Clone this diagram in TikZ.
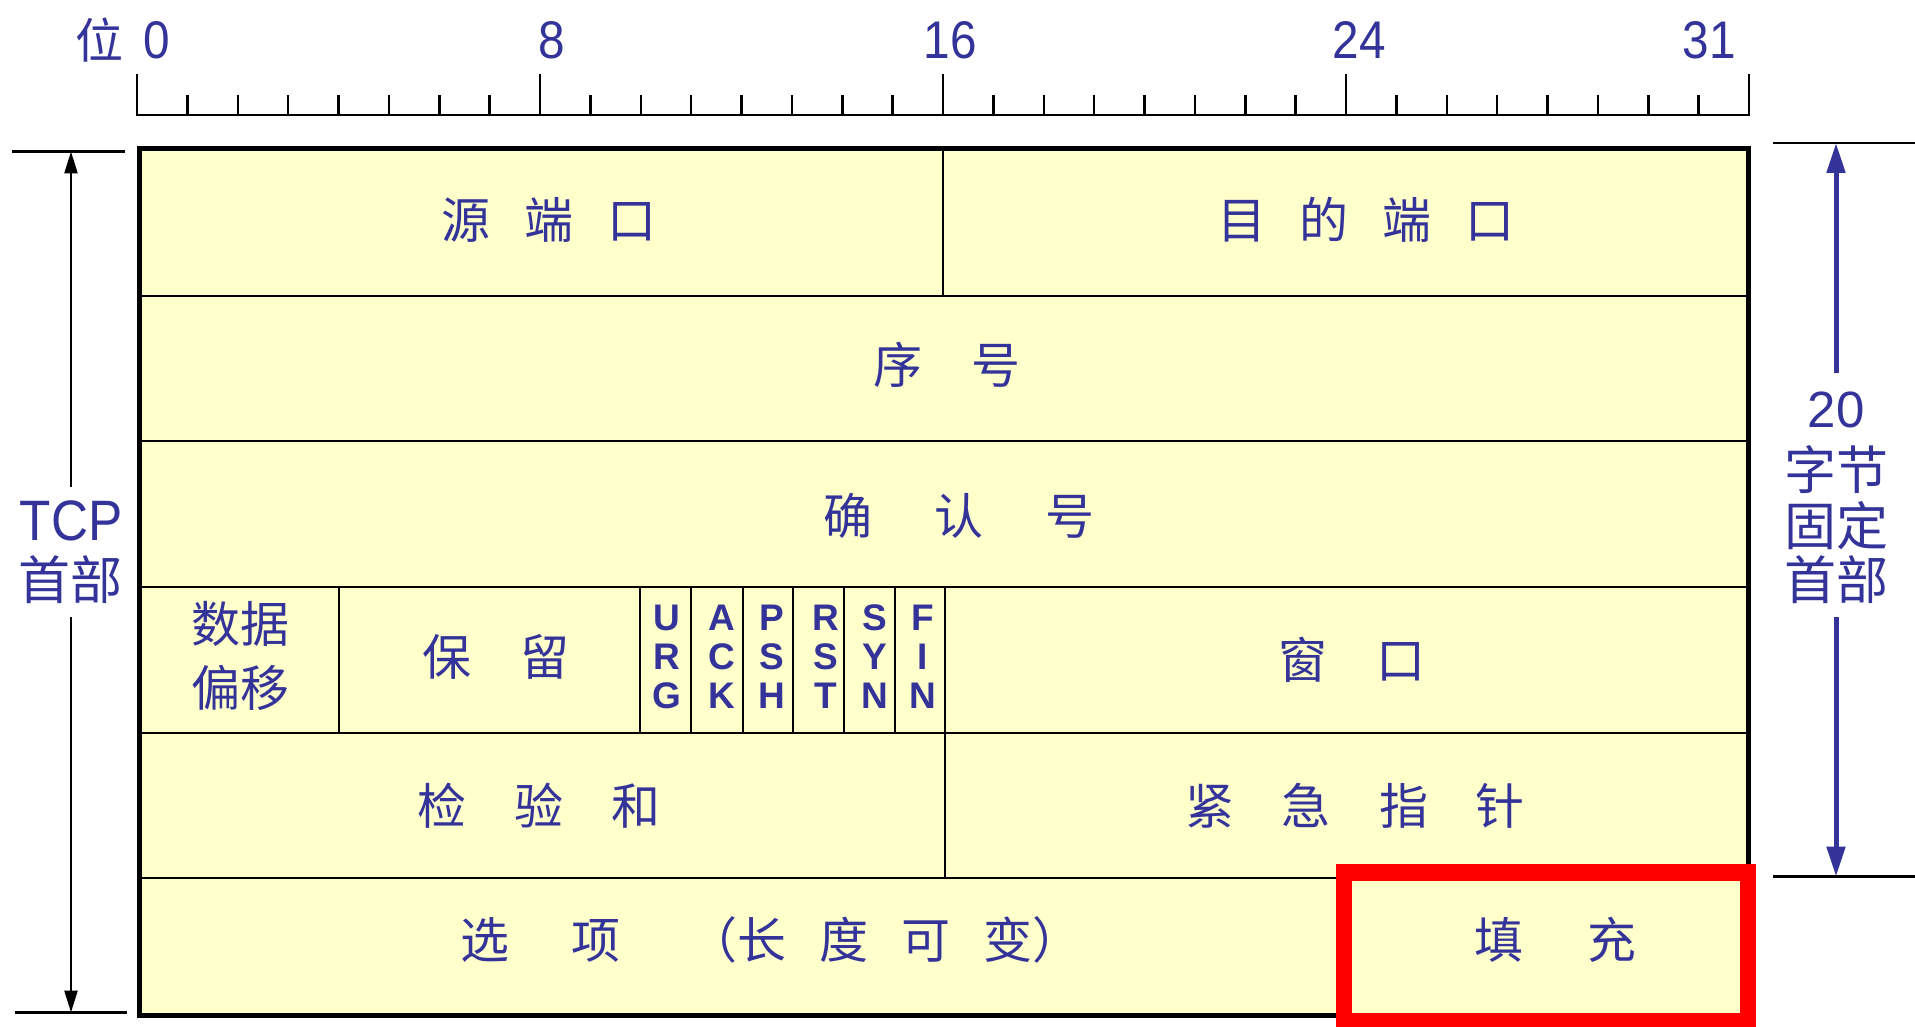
\documentclass[tikz,border=0pt]{standalone}
\usepackage{fontspec}
\usetikzlibrary{arrows.meta}
\newfontfamily\cjk{Noto Sans CJK SC}
\newfontfamily\narrowsans[FakeStretch=0.9]{Liberation Sans}
\newfontfamily\plainsans{Liberation Sans}
\definecolor{txtblue}{HTML}{333399}
\definecolor{cellfill}{HTML}{FFFFCC}
\newcommand\hgap[1]{\hspace{#1pt}}
\begin{document}
\begin{tikzpicture}[x=1pt,y=-1pt,
  cell/.style={text=txtblue, font=\cjk\fontsize{49}{64.5}\selectfont, inner sep=0pt, align=center},
  flag/.style={text=txtblue, font=\plainsans\bfseries\fontsize{37}{39}\selectfont, align=center, inner sep=0pt},
  rulenum/.style={text=txtblue, font=\narrowsans\fontsize{53}{60}\selectfont, inner sep=0pt},
  rulecjk/.style={text=txtblue, font=\cjk\fontsize{48}{56}\selectfont, inner sep=0pt},
  dimnum/.style={text=txtblue, inner xsep=0pt, inner ysep=14pt},
  dimcjk/.style={text=txtblue, font=\cjk\fontsize{52}{58}\selectfont, inner xsep=0pt, inner ysep=13pt},
  grid/.style={line width=2pt, black},
  frame/.style={line width=5pt, black},
  rule/.style={line width=2.5pt, black},
  extline/.style={line width=2.5pt, black},
  blackarrow/.style={line width=2.5pt, black, -{Triangle[width=13pt,length=22pt]}},
  bluearrow/.style={line width=5pt, txtblue, -{Triangle[width=18pt,length=30pt]}},
  highlight/.style={line width=16.5pt, red}
]
\clip (0,0) rectangle (1915,1027);
\fill[white] (0,0) rectangle (1915,1027);

% ruler
\foreach \i in {1,...,31} \draw[rule] ({137+50.375*\i},115) -- ++(0,-20);
\foreach \i in {8,16,24} \draw[rule] ({137+50.375*\i},115) -- ++(0,-41);
\draw[rule] (137,74) -- (137,115) -- (1749,115) -- (1749,74);
\node[rulecjk] (bitlbl) at (99,40) {位};
\node[rulenum] (b0) at (156.5,40) {0};
\node[rulenum] (b8) at (551.5,40) {8};
\node[rulenum] (b16) at (950,40) {16};
\node[rulenum] (b24) at (1359,40) {24};
\node[rulenum] (b31) at (1709,40) {31};

% header box
\fill[cellfill] (139.5,149) rectangle (1748.5,1015.5);
\foreach \y in {295.5,441,587,732.5,878} \draw[grid] (139.5,\y) -- (1748.5,\y);
\draw[grid] (943,149) -- (943,295.5);
\foreach \x in {338.5,640,691,742.5,793,844,895,945} \draw[grid] (\x,587) -- (\x,732.5);
\draw[grid] (945,732.5) -- (945,878);
\draw[frame] (139.5,149) rectangle (1748.5,1015.5);

% field texts
\node[cell] (src) at (549,220) {源\hgap{34}端\hgap{34}口};
\node[cell] (dst) at (1366,220) {目\hgap{34}的\hgap{34}端\hgap{34}口};
\node[cell] (seq) at (946.5,365) {序\hgap{49}号};
\node[cell] (ackn) at (959,516) {确\hgap{62}认\hgap{62}号};
\node[cell] (off) at (240,656) {数据\\偏移};
\node[cell] (resv) at (496,657) {保\hgap{49}留};
\node[flag] (furg) at (666.5,656.5) {U\\R\\G};
\node[flag] (fack) at (721.5,656.5) {A\\C\\K};
\node[flag] (fpsh) at (771.5,656.5) {P\\S\\H};
\node[flag] (frst) at (825.5,656.5) {R\\S\\T};
\node[flag] (fsyn) at (875,656.5) {S\\Y\\N};
\node[flag] (ffin) at (923,656.5) {F\\I\\N};
\node[cell] (win) at (1352,659.5) {窗\hgap{49}口};
\node[cell] (chk) at (539,806) {检\hgap{48}验\hgap{48}和};
\node[cell] (urg) at (1355,806) {紧\hgap{48}急\hgap{48}指\hgap{48}针};
\node[cell, anchor=west] (opt) at (460.5,940) {选\hgap{62}项\hgap{68}（长\hgap{33}度\hgap{33}可\hgap{33}变）};
\node[cell] (pad) at (1555.5,940) {填\hgap{64}充};

% highlight
\draw[highlight] (1344,872.5) rectangle (1748,1021);

% left dimension
\draw[extline] (12,151.5) -- (125,151.5);
\draw[extline] (15,1012.5) -- (127,1012.5);
\coordinate (ltop) at (71,151.5);
\coordinate (lbot) at (71,1012.5);
\node[dimnum, font=\narrowsans\fontsize{57}{60}\selectfont] (tcp) at (71,521) {TCP};
\node[dimcjk] (tcphdr) at (71,580) {首部};
\draw[blackarrow] (tcp.north) -- (ltop);
\draw[blackarrow] (tcphdr.south) -- (lbot);

% right dimension
\draw[extline] (1773,143) -- (1915,143);
\draw[extline] (1773,876.5) -- (1915,876.5);
\coordinate (rtop) at (1836,143);
\coordinate (rbot) at (1836,876.5);
\node[dimnum, font=\plainsans\fontsize{51}{58}\selectfont, inner ysep=19pt] (twenty) at (1836,410) {20};
\node[dimcjk, inner ysep=0pt] (bytes) at (1836,470) {字节};
\node[dimcjk, inner ysep=0pt] (fixed) at (1836,525.6) {固定};
\node[dimcjk] (fixhdr) at (1836,580) {首部};
\draw[bluearrow] (twenty.north) -- (rtop);
\draw[bluearrow] (fixhdr.south) -- (rbot);
\end{tikzpicture}
\end{document}
